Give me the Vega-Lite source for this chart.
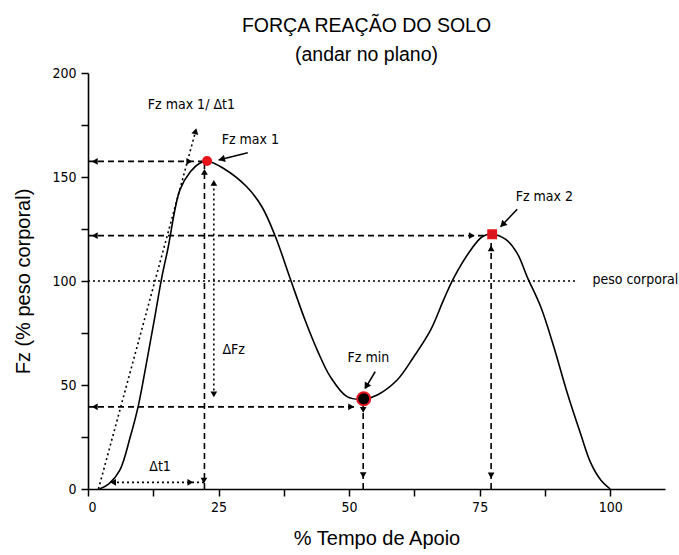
{
  "$schema": "https://vega.github.io/schema/vega-lite/v6.json",
  "autosize": {"type": "none"},
  "padding": {"left": 88, "top": 73, "right": 14, "bottom": 66},
  "width": 577,
  "height": 416,
  "background": "white",
  "config": {"view": {"stroke": null}},
  "title": {
    "text": ["FORÇA REAÇÃO DO SOLO", "(andar no plano)"],
    "font": "Liberation Sans",
    "fontSize": 19.5,
    "fontWeight": "normal",
    "color": "black",
    "anchor": "middle",
    "lineHeight": 29,
    "offset": 1,
    "dx": -10
  },
  "datasets": {
    "curve": [
      {"t": 2.2, "fz": 0}, {"t": 4.0, "fz": 2.5}, {"t": 6.1, "fz": 9.1}, {"t": 8.1, "fz": 25.1},
      {"t": 9.6, "fz": 39.6}, {"t": 11.3, "fz": 62}, {"t": 12.8, "fz": 82.8}, {"t": 14.1, "fz": 101.3},
      {"t": 15.3, "fz": 115.5}, {"t": 17.6, "fz": 143.8}, {"t": 19.6, "fz": 152.5}, {"t": 21.3, "fz": 156.5},
      {"t": 22.8, "fz": 157.7}, {"t": 25.9, "fz": 154.2}, {"t": 30.4, "fz": 145.3}, {"t": 33.3, "fz": 135.7},
      {"t": 35.9, "fz": 121.3}, {"t": 38.7, "fz": 101.3}, {"t": 41.6, "fz": 81}, {"t": 43.9, "fz": 66.8},
      {"t": 46.4, "fz": 54}, {"t": 49.6, "fz": 44.4}, {"t": 52.8, "fz": 43.2}, {"t": 55.4, "fz": 45.2},
      {"t": 59.2, "fz": 52.4}, {"t": 62.4, "fz": 63.6}, {"t": 65.6, "fz": 76.4}, {"t": 68.1, "fz": 90.9},
      {"t": 70.0, "fz": 101.3}, {"t": 73.3, "fz": 114.9}, {"t": 75.5, "fz": 121.3}, {"t": 77.4, "fz": 122.5},
      {"t": 80.0, "fz": 120.0}, {"t": 82.2, "fz": 113.3}, {"t": 84.1, "fz": 102}, {"t": 86.7, "fz": 87.6},
      {"t": 89.2, "fz": 68.4}, {"t": 91.8, "fz": 46}, {"t": 94.3, "fz": 26.8}, {"t": 96.3, "fz": 12.4},
      {"t": 98.2, "fz": 4.3}, {"t": 100.0, "fz": 0}
    ],
    "dashed": [
      {"x1": 0, "y1": 157.5, "x2": 22.3, "y2": 157.5},
      {"x1": 0, "y1": 121.8, "x2": 76.5, "y2": 121.8},
      {"x1": 0, "y1": 39.5, "x2": 51.5, "y2": 39.5},
      {"x1": 22.3, "y1": 0, "x2": 22.3, "y2": 156},
      {"x1": 52.7, "y1": 0, "x2": 52.7, "y2": 41},
      {"x1": 77.2, "y1": 0, "x2": 77.2, "y2": 120}
    ],
    "dotted": [
      {"x1": 0, "y1": 100, "x2": 93.7, "y2": 100},
      {"x1": 2.0, "y1": 0, "x2": 20.5, "y2": 171},
      {"x1": 24.1, "y1": 45, "x2": 24.1, "y2": 147.5},
      {"x1": 4.6, "y1": 3.2, "x2": 22.2, "y2": 3.2}
    ],
    "pointers": [
      {"x1": 30.6, "y1": 161.7, "x2": 25.0, "y2": 158.2},
      {"x1": 82.2, "y1": 134.5, "x2": 79.0, "y2": 126.1},
      {"x1": 55.0, "y1": 56.4, "x2": 53.1, "y2": 48.4}
    ],
    "headsLeft": [
      {"x": 1.3, "y": 157.5}, {"x": 1.3, "y": 121.8}, {"x": 1.3, "y": 39.5}, {"x": 4.8, "y": 3.2}
    ],
    "headsRight": [
      {"x": 19.4, "y": 157.5}, {"x": 73.5, "y": 121.8}, {"x": 50.4, "y": 39.5}, {"x": 19.6, "y": 3.2}
    ],
    "headsUp": [
      {"x": 22.3, "y": 152.5}, {"x": 24.1, "y": 147.2}, {"x": 77.2, "y": 115.7}
    ],
    "headsDown": [
      {"x": 77.2, "y": 6.5}, {"x": 52.7, "y": 6.7}, {"x": 22.2, "y": 4.0}, {"x": 24.1, "y": 45.5}, {"x": 52.7, "y": 38}
    ],
    "peaks": [
      {"t": 22.8, "fz": 157.7, "name": "Fz max 1"},
      {"t": 77.4, "fz": 122.5, "name": "Fz max 2"},
      {"t": 52.8, "fz": 43.4, "name": "Fz min"}
    ],
    "labels": [
      {"x": 19.8, "y": 184.6, "text": "Fz max 1/  Δt1"},
      {"x": 31.1, "y": 167.8, "text": "Fz max 1"},
      {"x": 87.4, "y": 140.5, "text": "Fz max 2"},
      {"x": 53.7, "y": 62.8, "text": "Fz min"},
      {"x": 27.9, "y": 66.8, "text": "ΔFz"},
      {"x": 13.8, "y": 10.7, "text": "Δt1"}
    ],
    "sideLabel": [
      {"x": 96.6, "y": 100.6, "text": "peso corporal"}
    ]
  },
  "layer": [
    {
      "data": {"name": "dotted"},
      "mark": {"type": "rule", "color": "black", "strokeWidth": 1.6, "strokeDash": [2, 3]},
      "encoding": {
        "x": {"field": "x1", "type": "quantitative", "scale": {"domain": [0, 110.5], "nice": false},
          "axis": {
            "values": [0, 12.5, 25, 37.5, 50, 62.5, 75, 87.5, 100],
            "labelExpr": "datum.value % 25 === 0 ? datum.label : ''",
            "grid": false, "tickSize": 7, "tickWidth": 1.5, "domainWidth": 1.6,
            "domainColor": "black", "tickColor": "black", "labelColor": "black",
            "labelFont": "Liberation Sans Narrow, Arial Narrow, DejaVu Sans Condensed, Liberation Sans", "labelFontSize": 14, "labelPadding": 4,
            "title": "% Tempo de Apoio", "titleFont": "Liberation Sans", "titleFontSize": 20,
            "titleFontWeight": "normal", "titleColor": "black", "titlePadding": 14
          }},
        "y": {"field": "y1", "type": "quantitative", "scale": {"domain": [0, 200], "nice": false},
          "axis": {
            "values": [0, 25, 50, 75, 100, 125, 150, 175, 200],
            "labelExpr": "datum.value % 50 === 0 ? datum.label : ''",
            "grid": false, "tickSize": 7, "tickWidth": 1.5, "domainWidth": 1.6,
            "domainColor": "black", "tickColor": "black", "labelColor": "black",
            "labelFont": "Liberation Sans Narrow, Arial Narrow, DejaVu Sans Condensed, Liberation Sans", "labelFontSize": 14, "labelPadding": 5,
            "title": "Fz (% peso corporal)", "titleFont": "Liberation Sans", "titleFontSize": 20,
            "titleFontWeight": "normal", "titleColor": "black", "titlePadding": 18
          }},
        "x2": {"field": "x2"},
        "y2": {"field": "y2"}
      }
    },
    {
      "data": {"name": "dashed"},
      "mark": {"type": "rule", "color": "black", "strokeWidth": 1.6, "strokeDash": [6, 4]},
      "encoding": {
        "x": {"field": "x1", "type": "quantitative"},
        "y": {"field": "y1", "type": "quantitative"},
        "x2": {"field": "x2"},
        "y2": {"field": "y2"}
      }
    },
    {
      "data": {"name": "pointers"},
      "mark": {"type": "rule", "color": "black", "strokeWidth": 1.6},
      "encoding": {
        "x": {"field": "x1", "type": "quantitative"},
        "y": {"field": "y1", "type": "quantitative"},
        "x2": {"field": "x2"},
        "y2": {"field": "y2"}
      }
    },
    {
      "data": {"name": "curve"},
      "mark": {"type": "line", "color": "black", "strokeWidth": 1.6, "interpolate": "catmull-rom"},
      "encoding": {
        "x": {"field": "t", "type": "quantitative"},
        "y": {"field": "fz", "type": "quantitative"}
      }
    },
    {
      "data": {"name": "headsLeft"},
      "mark": {"type": "point", "shape": "triangle-left", "filled": true, "color": "black", "size": 45, "opacity": 1},
      "encoding": {"x": {"field": "x", "type": "quantitative"}, "y": {"field": "y", "type": "quantitative"}}
    },
    {
      "data": {"name": "headsRight"},
      "mark": {"type": "point", "shape": "triangle-right", "filled": true, "color": "black", "size": 45, "opacity": 1},
      "encoding": {"x": {"field": "x", "type": "quantitative"}, "y": {"field": "y", "type": "quantitative"}}
    },
    {
      "data": {"name": "headsUp"},
      "mark": {"type": "point", "shape": "triangle-up", "filled": true, "color": "black", "size": 45, "opacity": 1},
      "encoding": {"x": {"field": "x", "type": "quantitative"}, "y": {"field": "y", "type": "quantitative"}}
    },
    {
      "data": {"name": "headsDown"},
      "mark": {"type": "point", "shape": "triangle-down", "filled": true, "color": "black", "size": 45, "opacity": 1},
      "encoding": {"x": {"field": "x", "type": "quantitative"}, "y": {"field": "y", "type": "quantitative"}}
    },
    {
      "data": {"values": [{"x": 20.6, "y": 172}]},
      "mark": {"type": "point", "shape": "triangle-up", "angle": 15, "filled": true, "color": "black", "size": 50, "opacity": 1},
      "encoding": {"x": {"field": "x", "type": "quantitative"}, "y": {"field": "y", "type": "quantitative"}}
    },
    {
      "data": {"values": [{"x": 25.6, "y": 158.6}]},
      "mark": {"type": "point", "shape": "triangle-up", "angle": 256, "filled": true, "color": "black", "size": 55, "opacity": 1},
      "encoding": {"x": {"field": "x", "type": "quantitative"}, "y": {"field": "y", "type": "quantitative"}}
    },
    {
      "data": {"values": [{"x": 79.4, "y": 127.1}]},
      "mark": {"type": "point", "shape": "triangle-up", "angle": 224, "filled": true, "color": "black", "size": 55, "opacity": 1},
      "encoding": {"x": {"field": "x", "type": "quantitative"}, "y": {"field": "y", "type": "quantitative"}}
    },
    {
      "data": {"values": [{"x": 53.3, "y": 49.4}]},
      "mark": {"type": "point", "shape": "triangle-up", "angle": 211, "filled": true, "color": "black", "size": 55, "opacity": 1},
      "encoding": {"x": {"field": "x", "type": "quantitative"}, "y": {"field": "y", "type": "quantitative"}}
    },
    {
      "data": {"name": "peaks"},
      "transform": [{"filter": "datum.name === 'Fz max 1'"}],
      "mark": {"type": "point", "shape": "circle", "filled": true, "color": "#e8141c", "size": 100, "opacity": 1},
      "encoding": {"x": {"field": "t", "type": "quantitative"}, "y": {"field": "fz", "type": "quantitative"}}
    },
    {
      "data": {"name": "peaks"},
      "transform": [{"filter": "datum.name === 'Fz max 2'"}],
      "mark": {"type": "point", "shape": "square", "filled": true, "fill": "#d8141c", "stroke": "#e8141c", "strokeWidth": 1.5, "size": 70, "opacity": 1},
      "encoding": {"x": {"field": "t", "type": "quantitative"}, "y": {"field": "fz", "type": "quantitative"}}
    },
    {
      "data": {"name": "peaks"},
      "transform": [{"filter": "datum.name === 'Fz min'"}],
      "mark": {"type": "point", "shape": "circle", "filled": true, "fill": "black", "stroke": "#e8141c", "strokeWidth": 2, "size": 170, "opacity": 1},
      "encoding": {"x": {"field": "t", "type": "quantitative"}, "y": {"field": "fz", "type": "quantitative"}}
    },
    {
      "data": {"name": "labels"},
      "mark": {"type": "text", "font": "Liberation Sans Narrow, Arial Narrow, DejaVu Sans Condensed, Liberation Sans", "fontSize": 14, "color": "black", "align": "center", "baseline": "middle"},
      "encoding": {
        "x": {"field": "x", "type": "quantitative"},
        "y": {"field": "y", "type": "quantitative"},
        "text": {"field": "text"}
      }
    },
    {
      "data": {"name": "sideLabel"},
      "mark": {"type": "text", "font": "Liberation Sans Narrow, Arial Narrow, DejaVu Sans Condensed, Liberation Sans", "fontSize": 14, "color": "black", "align": "left", "baseline": "middle"},
      "encoding": {
        "x": {"field": "x", "type": "quantitative"},
        "y": {"field": "y", "type": "quantitative"},
        "text": {"field": "text"}
      }
    }
  ]
}
